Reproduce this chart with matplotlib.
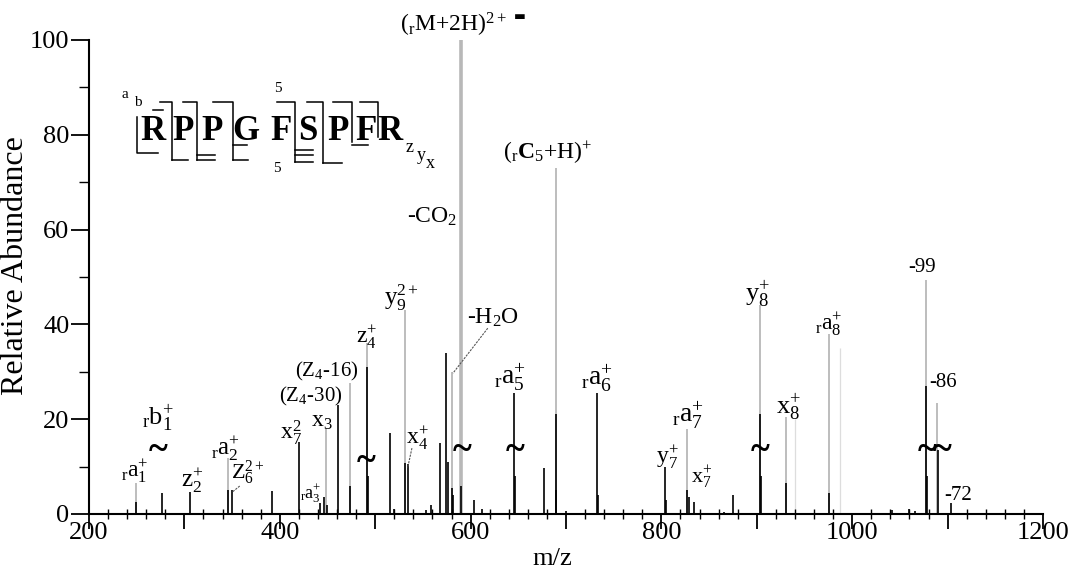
import matplotlib
matplotlib.use('Agg')
import matplotlib.pyplot as plt
from matplotlib.ticker import MultipleLocator, FuncFormatter
from matplotlib.transforms import Affine2D

plt.rcParams['font.family'] = ['Liberation Serif', 'DejaVu Serif']
plt.rcParams['mathtext.fontset'] = 'custom'
plt.rcParams['mathtext.rm'] = 'Liberation Serif'
plt.rcParams['mathtext.it'] = 'Liberation Serif:italic'
plt.rcParams['mathtext.bf'] = 'Liberation Serif:bold'

# observed peaks (black sticks)
peak_mz = [249, 276, 306, 346, 350, 392, 420, 442, 446, 449, 461, 474, 491, 492,
           515, 520, 531, 534, 553, 559, 568, 574, 576, 580, 582, 590, 604, 612,
           646, 647, 677, 689, 690, 700, 733, 734, 804, 805, 827, 829, 834, 866,
           875, 903, 904, 931, 976, 1042, 1060, 1066, 1077, 1078, 1090, 1104]
peak_int = [2.5, 4.4, 4.6, 5.0, 5.0, 4.9, 15.2, 2.3, 3.5, 2.0, 23, 6, 31, 8,
            17, 1.0, 10.8, 10.5, 0.8, 2, 15, 34, 11, 5.5, 4, 6, 3, 1.0,
            25.5, 8, 9.7, 21, 5, 0.6, 25.5, 4, 10, 3, 5, 3.5, 2.5, 0.5,
            4, 21, 8, 6.5, 4.4, 0.8, 1.0, 0.6, 27, 8, 13.5, 2.3]

# grey lines: unscaled heights of labelled peaks
guide_mz = [249, 346, 448, 474, 491, 531, 580, 689, 827, 903, 931, 976, 1077, 1089]
guide_top = [6.5, 11.8, 18, 27.7, 36, 43, 30, 73, 18, 44, 20.5, 38, 49.4, 23.4]
parent_mz = 590
parent_top = 100
faint_mz = [940, 987]
faint_top = [20, 35]

# peak labels
label_text = [r'${}_{\rm r}{\rm a}_{1}^{+}$', r'${}_{\rm r}{\rm b}_{1}^{+}$', r'${\rm z}_{2}^{+}$',
              r'${}_{\rm r}{\rm a}_{2}^{+}$', r'${\rm Z}_{6}^{2+}$', r'${\rm x}_{7}^{2}$',
              r'${}_{\rm r}{\rm a}_{3}^{+}$', r'${\rm x}_{3}$', r'$({\rm Z}_{4}$-$30)$',
              r'$({\rm Z}_{4}$-$16)$', r'${\rm z}_{4}^{+}$', r'${\rm y}_{9}^{2+}$',
              r'${\rm x}_{4}^{+}$', r'-H$_2$O', r'-CO$_2$',
              r'$({}_{\rm r}{\rm M}{+}2{\rm H})^{2+}$', r'$({}_{\rm r}\mathbf{C}_{5}{+}{\rm H})^{+}$',
              r'${}_{\rm r}{\rm a}_{5}^{+}$', r'${}_{\rm r}{\rm a}_{6}^{+}$', r'${\rm y}_{7}^{+}$',
              r'${}_{\rm r}{\rm a}_{7}^{+}$', r'${\rm x}_{7}^{+}$', r'${\rm y}_{8}^{+}$',
              r'${\rm x}_{8}^{+}$', r'${}_{\rm r}{\rm a}_{8}^{+}$', '-99', '-86', '-72']
label_mz = [248, 272, 308, 342.6, 367, 412, 432, 444, 432, 449.5, 491, 528, 544, 623.5,
            559.5, 581.5, 681, 641, 732.5, 806, 828, 842.5, 901, 933, 975, 1073, 1095, 1111]
label_ab = [8.9, 20.3, 7.2, 13.9, 8.8, 17.1, 4.4, 19.6, 24.7, 30, 37.3, 45.6, 16, 41.4,
            62.7, 103.2, 76.2, 28.9, 28.7, 12, 20.9, 7.8, 46.6, 22.6, 39.9, 51.9, 27.8, 4.0]
label_fs = [17, 19, 18, 18, 16, 17, 13, 17, 15, 15, 17, 18, 17, 17,
            17, 17, 17, 20, 20, 17, 20, 16, 19, 19, 17, 15, 15, 15]

# axis-break marks
break_mz = [272, 490, 591, 646.5, 903, 1078, 1094]
break_ab = [13.5, 11, 13.5, 13.5, 13.5, 13.5, 13.5]

# leader lines (mz0, ab0, mz1, ab1)
leaders = [(358, 5.9, 350, 4.6), (538.5, 13.9, 534, 9.7), (618, 39.2, 581.5, 29.7)]

fig = plt.figure(figsize=(10.77, 5.74), dpi=100)
ax = fig.add_axes([89 / 1077, 60 / 574, 954 / 1077, 474 / 574])

ax.vlines(faint_mz, 0, faint_top, color='#dddddd', lw=0.9, zorder=1)
ax.vlines(guide_mz, 0, guide_top, color='#b8b8b8', lw=1.3, zorder=1)
ax.vlines(parent_mz, 0, parent_top, color='#b8b8b8', lw=2.6, zorder=1)
ax.vlines(peak_mz, 0, peak_int, color='black', lw=1.2, zorder=2)

for t, x, y, fs in zip(label_text, label_mz, label_ab, label_fs):
    ax.text(x, y, t, fontsize=fs, ha='center', va='center', clip_on=False)
# radical marker after the precursor label
ax.text(651, 105.0, '\u25ac', fontsize=9, family='DejaVu Sans', ha='center', va='center', clip_on=False)

for x, y in zip(break_mz, break_ab):
    ax.text(x, y, '~', fontsize=26, fontweight='bold', ha='center', va='center')

for x0, y0, x1, y1 in leaders:
    ax.plot([x0, x1], [y0, y1], color='#555555', lw=0.8, ls=(0, (2, 1)))

ax.set_xlim(200, 1200)
ax.set_ylim(0, 100)
ax.spines['top'].set_visible(False)
ax.spines['right'].set_visible(False)
ax.spines['left'].set_linewidth(1.5)
ax.spines['bottom'].set_linewidth(1.5)

ax.xaxis.set_major_locator(MultipleLocator(100))
ax.xaxis.set_minor_locator(MultipleLocator(20))
ax.xaxis.set_major_formatter(FuncFormatter(lambda v, p: f'{v:.0f}' if round(v) % 200 == 0 else ''))
ax.yaxis.set_major_locator(MultipleLocator(20))
ax.yaxis.set_minor_locator(MultipleLocator(10))
ax.tick_params(axis='x', which='major', direction='out', length=11, width=1.3, pad=-5, labelsize=19)
ax.tick_params(axis='x', which='minor', direction='inout', length=7, width=1.0)
ax.tick_params(axis='y', which='major', direction='out', length=13, width=1.3, pad=1, labelsize=19)
ax.tick_params(axis='y', which='minor', direction='out', length=7, width=1.0)

ax.set_xlabel('m/z', fontsize=19)
ax.set_ylabel('Relative Abundance', fontsize=23)
ax.xaxis.set_label_coords(0.486, -0.072)
ax.yaxis.set_label_coords(-0.062, 0.525)

# peptide sequence with fragment brackets, laid out in image pixels
pix = Affine2D().scale(1, -1).translate(0, 574)
residues = list('RPPGFSPFR')
res_x = [153, 183, 212, 246, 281, 308, 338, 366, 390]
for r, x in zip(residues, res_x):
    fig.text(x, 132, r, transform=pix, fontsize=25, fontweight='bold', ha='center', va='center')
top_y = 102
top_br = [(160, 172, 160), (183, 197, 160), (213, 233, 160), (277, 295, 162),
          (307, 323, 163), (333, 352, 142), (360, 378, 137)]
for xl, xv, yb in top_br:
    fig.add_artist(plt.Line2D([xl, xv, xv], [top_y, top_y, yb], transform=pix, color='black', lw=1.1))
bot_br = [(172, 188, 160), (197, 215, 155), (197, 215, 160), (233, 248, 160), (233, 247, 145),
          (295, 313, 150), (295, 313, 155), (295, 313, 162), (323, 342, 163), (352, 368, 145)]
for x0, x1, y in bot_br:
    fig.add_artist(plt.Line2D([x0, x1], [y, y], transform=pix, color='black', lw=1.1))
fig.add_artist(plt.Line2D([137, 137, 158], [117, 153, 153], transform=pix, color='black', lw=1.1))
fig.add_artist(plt.Line2D([153, 163], [110, 110], transform=pix, color='black', lw=1.1))
for t, x, y, fs in [('a', 125, 95, 11), ('b', 138, 103, 11), ('5', 278, 88, 11), ('5', 277, 168, 11),
                    ('z', 410, 148, 13), ('y', 421, 156, 13), ('x', 430, 164, 13)]:
    fig.text(x, y, t, transform=pix, fontsize=fs, ha='center', va='center')

fig.savefig('out.png', dpi=100)
